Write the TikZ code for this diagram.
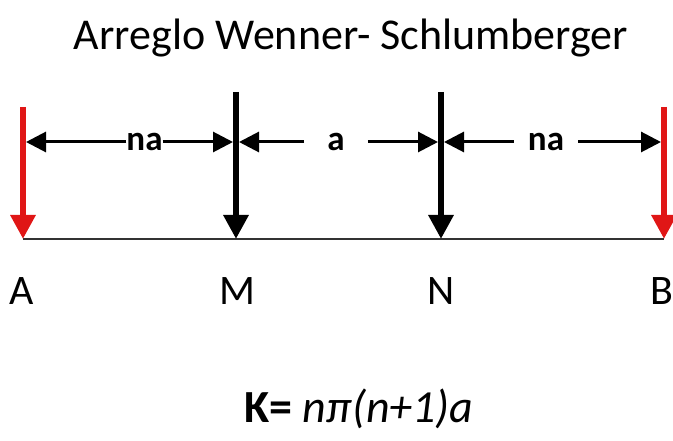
\documentclass[tikz,border=0pt]{standalone}
\usepackage{fontspec}
\setmainfont{Carlito}
\usepackage{tikz}
\usetikzlibrary{arrows.meta,positioning}
\usepackage{xcolor}
\definecolor{elecred}{RGB}{224,22,22}

\begin{document}
\begin{tikzpicture}[x=1pt,y=-1pt,
  electrode/.style={line width=6pt, -{Triangle[length=24pt,width=24pt]}},
  dimline/.style={line width=3pt, -{Triangle[length=20pt,width=20pt]}},
  dimlbl/.style={font=\fontsize{35}{35}\selectfont\bfseries, inner sep=0pt},
  ptlbl/.style={font=\fontsize{42}{42}\selectfont, anchor=base}]
\useasboundingbox (0,0) rectangle (673,441);
\node[font=\fontsize{44}{44}\selectfont, anchor=base] (title) at (351,50) {Arreglo Wenner- Schlumberger};
% electrodes
\coordinate (Atop) at (23,107);  \coordinate (A) at (23,239);
\coordinate (Mtop) at (236,92);  \coordinate (M) at (236,239);
\coordinate (Ntop) at (441,92);  \coordinate (N) at (441,239);
\coordinate (Btop) at (664,107); \coordinate (B) at (664,239);
\draw[line width=2pt, black!80] (A) -- (B);
\draw[electrode, elecred] (Atop) -- (A);
\draw[electrode] (Mtop) -- (M);
\draw[electrode] (Ntop) -- (N);
\draw[electrode, elecred] (Btop) -- (B);
% spacings
\coordinate (dA) at (26,142);
\coordinate (dMl) at (233,142); \coordinate (dMr) at (239,142);
\coordinate (dNl) at (438,142); \coordinate (dNr) at (444,142);
\coordinate (dB) at (661,142);
\node[dimlbl] (na1) at (144.5,142) {na};
\node[dimlbl, inner xsep=23pt] (a1) at (336,142) {a};
\node[dimlbl, inner xsep=14pt] (na2) at (546,142) {na};
\draw[dimline] (na1) -- (dA);
\draw[dimline] (na1) -- (dMl);
\draw[dimline] (a1) -- (dMr);
\draw[dimline] (a1) -- (dNl);
\draw[dimline] (na2) -- (dNr);
\draw[dimline] (na2) -- (dB);
% point names
\node[ptlbl] (lA) at (22,305) {A};
\node[ptlbl] (lM) at (237,305) {M};
\node[ptlbl] (lN) at (441,305) {N};
\node[ptlbl] (lB) at (662,305) {B};
\node[font=\fontsize{46}{46}\selectfont, anchor=base] (K) at (359,422) {\textbf{K=} \textit{nπ(n+1)a}};
\end{tikzpicture}
\end{document}
